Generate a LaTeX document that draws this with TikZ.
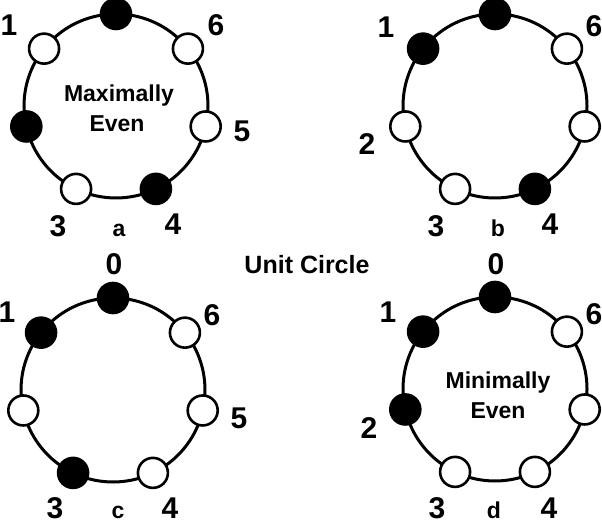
\documentclass[tikz,border=0pt]{standalone}
\usepackage{fontspec}
\setmainfont{Liberation Sans}
\usetikzlibrary{calc}
\begin{document}
\begin{tikzpicture}[x=1pt,y=1pt,
  ring/.style={circle,draw,line width=3pt,minimum size=184pt,inner sep=0pt},
  full/.style={circle,draw,fill=black,line width=2.6pt,minimum size=30pt,inner sep=0pt},
  empty/.style={circle,draw,fill=white,line width=2.6pt,minimum size=30pt,inner sep=0pt},
  num/.style={inner sep=0pt,font=\bfseries\fontsize{30}{30}\selectfont},
  tag/.style={inner sep=0pt,anchor=base,font=\bfseries\fontsize{23}{23}\selectfont},
  title/.style={inner sep=0pt,anchor=base,font=\bfseries\fontsize{23}{23}\selectfont},
  head/.style={inner sep=0pt,font=\bfseries\fontsize{25}{25}\selectfont}]
\useasboundingbox (0,0) rectangle (602,525);
% rings
\node[ring] (ra) at (116,419) {};
\node[ring] (rb) at (495,419) {};
\node[ring] (rc) at (113,135) {};
\node[ring] (rd) at (495,136) {};
% dots
\foreach \k/\s in {0/full,1/empty,2/full,3/empty,4/full,5/empty,6/empty}
  \node[\s] (a\k) at ($(ra.center)+(90+\k*51.42857:92pt)$) {};
\foreach \k/\s in {0/full,1/full,2/empty,3/empty,4/full,5/empty,6/empty}
  \node[\s] (b\k) at ($(rb.center)+(90+\k*51.42857:92pt)$) {};
\foreach \k/\s in {0/full,1/full,2/empty,3/full,4/empty,5/empty,6/empty}
  \node[\s] (c\k) at ($(rc.center)+(90+\k*51.42857:92pt)$) {};
\foreach \k/\s in {0/full,1/full,2/full,3/empty,4/empty,5/empty,6/empty}
  \node[\s] (d\k) at ($(rd.center)+(90+\k*51.42857:92pt)$) {};
% labels a
\node[num] (la1) at (9,500) {1};
\node[num] (la6) at (216,500) {6};
\node[num] (la5) at (242,394) {5};
\node[num] (la3) at (58,299) {3};
\node[num] (la4) at (173,301) {4};
\node[tag] (taga) at (119,288) {a};
\node[title] (maxa) at (119,423) {Maximally};
\node[title] (evena) at (117,393) {Even};
% labels b
\node[num] (lb1) at (386,498) {1};
\node[num] (lb6) at (594,499) {6};
\node[num] (lb2) at (367,381) {2};
\node[num] (lb3) at (436,299) {3};
\node[num] (lb4) at (550,301) {4};
\node[tag] (tagb) at (498,288) {b};
% centre title
\node[head] (unit) at (307,260) {Unit Circle};
% labels c
\node[num] (lc0) at (114,261) {0};
\node[num] (lc1) at (7,213) {1};
\node[num] (lc6) at (212,210) {6};
\node[num] (lc5) at (239,107) {5};
\node[num] (lc3) at (55,17) {3};
\node[num] (lc4) at (170,17) {4};
\node[tag] (tagc) at (118,7) {c};
% labels d
\node[num] (ld0) at (496,261) {0};
\node[num] (ld1) at (388,213) {1};
\node[num] (ld6) at (594,211) {6};
\node[num] (ld2) at (369,97) {2};
\node[num] (ld3) at (437,17) {3};
\node[num] (ld4) at (549,17) {4};
\node[tag] (tagd) at (494,7) {d};
\node[title] (mind) at (498,137) {Minimally};
\node[title] (evend) at (498,107) {Even};
\end{tikzpicture}
\end{document}
